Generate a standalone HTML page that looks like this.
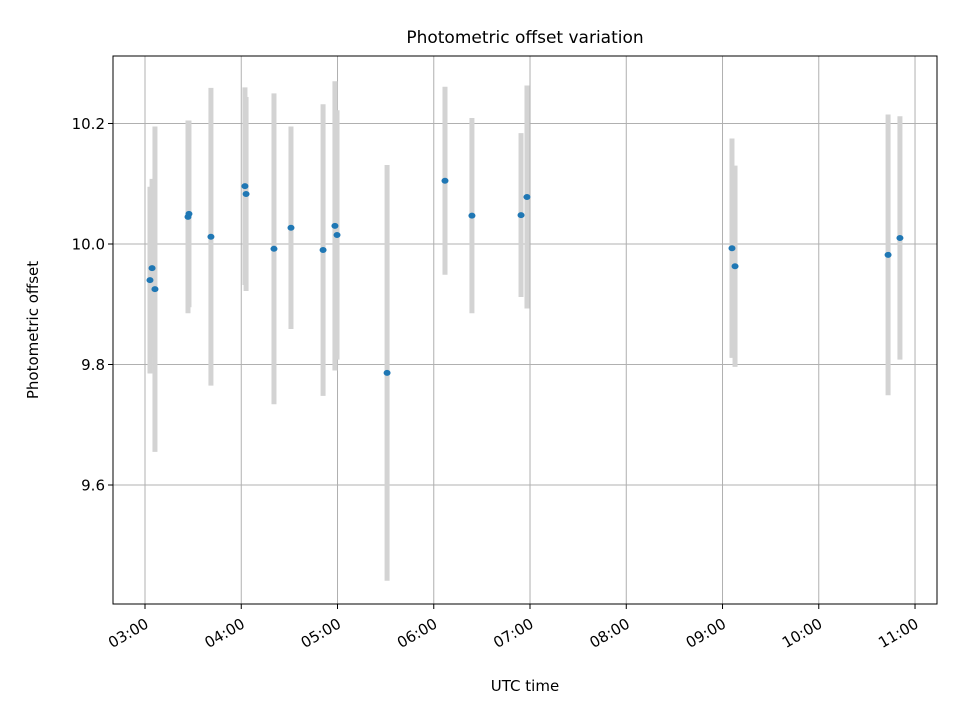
<!DOCTYPE html>
<html><head><meta charset="utf-8"><style>
body{margin:0;background:#fff;}
text{font-family:"DejaVu Sans","Liberation Sans",sans-serif;fill:#000;}
</style></head><body>
<svg id="chart" width="960" height="720" xmlns="http://www.w3.org/2000/svg">
<rect width="960" height="720" fill="#fff"/>
<text x="525" y="43" font-size="17" text-anchor="middle">Photometric offset variation</text>
<text x="525" y="691" font-size="15" text-anchor="middle">UTC time</text>
<text transform="translate(38,330) rotate(-90)" font-size="15" text-anchor="middle">Photometric offset</text>
<g id="grid"></g><g id="bars"></g><g id="pts"></g><g id="axes"></g>
</svg>
<script>
// minutes after 03:00 UTC
const times=[3.1,4.4,6.2,26.8,27.4,41.1,62.3,63,80.4,91,111,118.4,119.7,150.9,187,203.8,234.4,238.1,365.9,367.8,463.2,470.6];
const offsets=[9.940,9.960,9.925,10.045,10.050,10.012,10.096,10.083,9.992,10.027,9.990,10.030,10.015,9.786,10.105,10.047,10.048,10.078,9.993,9.963,9.982,10.010];
const errors=[0.155,0.148,0.27,0.16,0.155,0.247,0.164,0.161,0.258,0.168,0.242,0.24,0.207,0.345,0.156,0.162,0.136,0.185,0.182,0.167,0.233,0.202];
const xTickLabels=["03:00","04:00","05:00","06:00","07:00","08:00","09:00","10:00","11:00"];
const yTicks=[9.6,9.8,10.0,10.2];

const L=113,R=937,T=56,B=604;
const xMin=-19.95,xMax=493.7,yMin=9.4025,yMax=10.312;
const xs=v=>L+(v-xMin)/(xMax-xMin)*(R-L);
const ys=v=>B-(v-yMin)/(yMax-yMin)*(B-T);
const NS="http://www.w3.org/2000/svg";
function mk(p,tag,a){const e=document.createElementNS(NS,tag);for(const k in a)e.setAttribute(k,a[k]);document.getElementById(p).appendChild(e);return e;}

xTickLabels.forEach((lab,i)=>{
  const x=xs(i*60);
  const g=mk('grid','line',{x1:x,x2:x,y1:T,y2:B,stroke:'#b0b0b0','stroke-width':1});
  
  
  const t=mk('axes','line',{x1:x,x2:x,y1:B,y2:B+5,stroke:'#000','stroke-width':1});
  
  
  const tx=mk('axes','text',{x:0,y:0,'font-size':15,'text-anchor':'end',transform:`translate(${x-1},${B+13}) rotate(-30)`,dy:'0.75em'});
  tx.textContent=lab;
  
  
});
yTicks.forEach(v=>{
  const y=ys(v);
  const g=mk('grid','line',{x1:L,x2:R,y1:y,y2:y,stroke:'#b0b0b0','stroke-width':1});
  
  
  const t=mk('axes','line',{x1:L-5,x2:L,y1:y,y2:y,stroke:'#000','stroke-width':1});
  
  
  const tx=mk('axes','text',{x:L-8,y:y+5.5,'font-size':15,'text-anchor':'end'});
  tx.textContent=v.toFixed(1);
  
  
});
times.forEach((t,i)=>{
  const x=xs(t);
  const b=mk('bars','line',{x1:x,x2:x,y1:ys(offsets[i]+errors[i]),y2:ys(offsets[i]-errors[i]),stroke:'#d3d3d3','stroke-width':5});
  
  
  const p=mk('pts','ellipse',{cx:x,cy:ys(offsets[i]),rx:3.5,ry:3,fill:'#1f77b4'});
  
  
});
const f=mk('axes','rect',{x:L,y:T,width:R-L,height:B-T,fill:'none',stroke:'#000','stroke-width':1});


</script>
</body></html>
